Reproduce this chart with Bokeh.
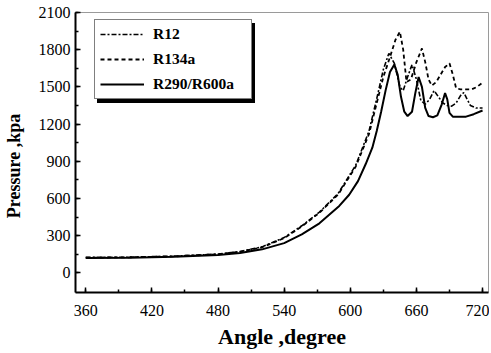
from bokeh.plotting import figure
from bokeh.models import Legend, LegendItem, FixedTicker, Range1d
from bokeh.embed import file_html
from bokeh.resources import INLINE

# R12 (dash-dot)
r12_angle = [360, 400, 440, 480, 500, 520, 540, 556, 572, 589, 605, 617, 624, 630, 635,
             640, 645, 648, 652, 656, 660, 664, 668, 672, 676, 680, 684, 688, 692, 696,
             700, 703, 706, 709, 714, 720]
r12_press = [125, 127, 135, 152, 172, 210, 285, 380, 490, 640, 870, 1144, 1405, 1640, 1770,
             1690, 1500, 1470, 1580, 1680, 1560, 1390, 1360, 1400, 1470, 1420, 1370, 1350, 1345, 1370,
             1430, 1455, 1400, 1350, 1330, 1330]

# R134a (dashed)
r134a_angle = [360, 400, 440, 480, 500, 520, 540, 556, 572, 589, 605, 617, 624, 630, 636,
               641, 645, 648, 651, 655, 660, 665, 668, 671, 674, 678, 682, 686, 690, 693,
               696, 700, 710, 715, 720]
r134a_press = [123, 126, 133, 150, 170, 207, 280, 375, 485, 632, 858, 1120, 1370, 1580, 1740,
               1880, 1945, 1800, 1540, 1560, 1700, 1810, 1700, 1560, 1510, 1540, 1600, 1660, 1690, 1600,
               1490, 1480, 1480, 1500, 1535]

# R290/R600a (solid)
r290_angle = [360, 400, 440, 480, 500, 520, 540, 556, 572, 590, 599, 607, 614, 620, 624,
              628, 632, 636, 640, 643, 646, 649, 652, 656, 659, 662, 665, 668, 671, 675,
              679, 683, 686, 688, 690, 693, 705, 712, 720]
r290_press = [120, 123, 130, 145, 160, 190, 240, 310, 400, 540, 630, 740, 878, 1010, 1144,
              1300, 1470, 1620, 1680, 1600, 1420, 1300, 1265, 1300, 1450, 1580, 1500, 1330, 1265, 1255,
              1270, 1360, 1450, 1400, 1290, 1260, 1260, 1280, 1310]

x_ticks = [360, 420, 480, 540, 600, 660, 720]
y_ticks = [0, 300, 600, 900, 1200, 1500, 1800, 2100]

SERIF = "Liberation Serif"

p = figure(width=489, height=351, output_backend="svg", toolbar_location=None,
           x_range=Range1d(350.7, 725.4), y_range=Range1d(-158, 2100),
           min_border_left=73, min_border_right=1, min_border_top=12, min_border_bottom=53)
p.xgrid.visible = False
p.ygrid.visible = False
p.outline_line_color = "#9a9a9a"
p.outline_line_width = 1
p.background_fill_color = "white"
p.border_fill_color = "white"

l1 = p.line(r12_angle, r12_press, line_color="black", line_width=1.6, line_dash="5 2 2 2")
l2 = p.line(r134a_angle, r134a_press, line_color="black", line_width=1.8, line_dash="4 3")
l3 = p.line(r290_angle, r290_press, line_color="black", line_width=2)

for ax in (p.xaxis[0], p.yaxis[0]):
    ax.axis_line_width = 2
    ax.axis_line_color = "black"
    ax.major_tick_in = 5
    ax.major_tick_out = 0
    ax.minor_tick_in = 3
    ax.minor_tick_out = 0
    ax.major_tick_line_width = 1.5
    ax.minor_tick_line_width = 1.5
    ax.major_label_text_font = SERIF
    ax.major_label_text_font_size = "16px"
    ax.major_label_text_color = "black"
    ax.axis_label_text_font = SERIF
    ax.axis_label_text_font_style = "bold"
    ax.axis_label_text_color = "black"

p.xaxis[0].ticker = FixedTicker(ticks=x_ticks, minor_ticks=list(range(360, 721, 30)))
p.yaxis[0].ticker = FixedTicker(ticks=y_ticks, minor_ticks=list(range(0, 2101, 150)))
p.xaxis[0].axis_label = "Angle ,degree"
p.yaxis[0].axis_label = "Pressure ,kpa" + "\u00a0" * 6
p.xaxis[0].axis_label_text_font_size = "22px"
p.yaxis[0].axis_label_text_font_size = "18px"
p.xaxis[0].major_label_standoff = 12
p.yaxis[0].major_label_standoff = 5
p.xaxis[0].axis_label_standoff = 5
p.yaxis[0].axis_label_standoff = 12

PAD = 5
GW = 44
STANDOFF = 9
LW = 93
LH = 18
SP = 7

# drop shadow of the legend box (single blank item of the same size)
shadow = Legend(items=[LegendItem(label="\u00a0", renderers=[l3])], location=(22, 189))
shadow.glyph_width = GW
shadow.glyph_height = 3 * LH + 2 * SP
shadow.label_height = 3 * LH + 2 * SP
shadow.label_width = LW
shadow.label_standoff = STANDOFF
shadow.padding = PAD
shadow.margin = 0
shadow.background_fill_color = "black"
shadow.background_fill_alpha = 1
shadow.border_line_color = "black"
shadow.label_text_color = "black"
shadow.label_text_font_size = "15.5px"
p.add_layout(shadow)

legend = Legend(items=[LegendItem(label="R12", renderers=[l1]),
                       LegendItem(label="R134a", renderers=[l2]),
                       LegendItem(label="R290/R600a", renderers=[l3])],
                location=(19, 193))
legend.label_text_font = SERIF
legend.label_text_font_size = "15.5px"
legend.label_text_font_style = "bold"
legend.label_text_color = "black"
legend.glyph_width = GW
legend.glyph_height = LH
legend.label_height = LH
legend.label_width = LW
legend.spacing = SP
legend.padding = PAD
legend.label_standoff = STANDOFF
legend.border_line_color = "black"
legend.border_line_width = 1.5
legend.background_fill_color = "white"
legend.background_fill_alpha = 1
legend.margin = 0
p.add_layout(legend)

open("out.html", "w").write(file_html(p, INLINE))
